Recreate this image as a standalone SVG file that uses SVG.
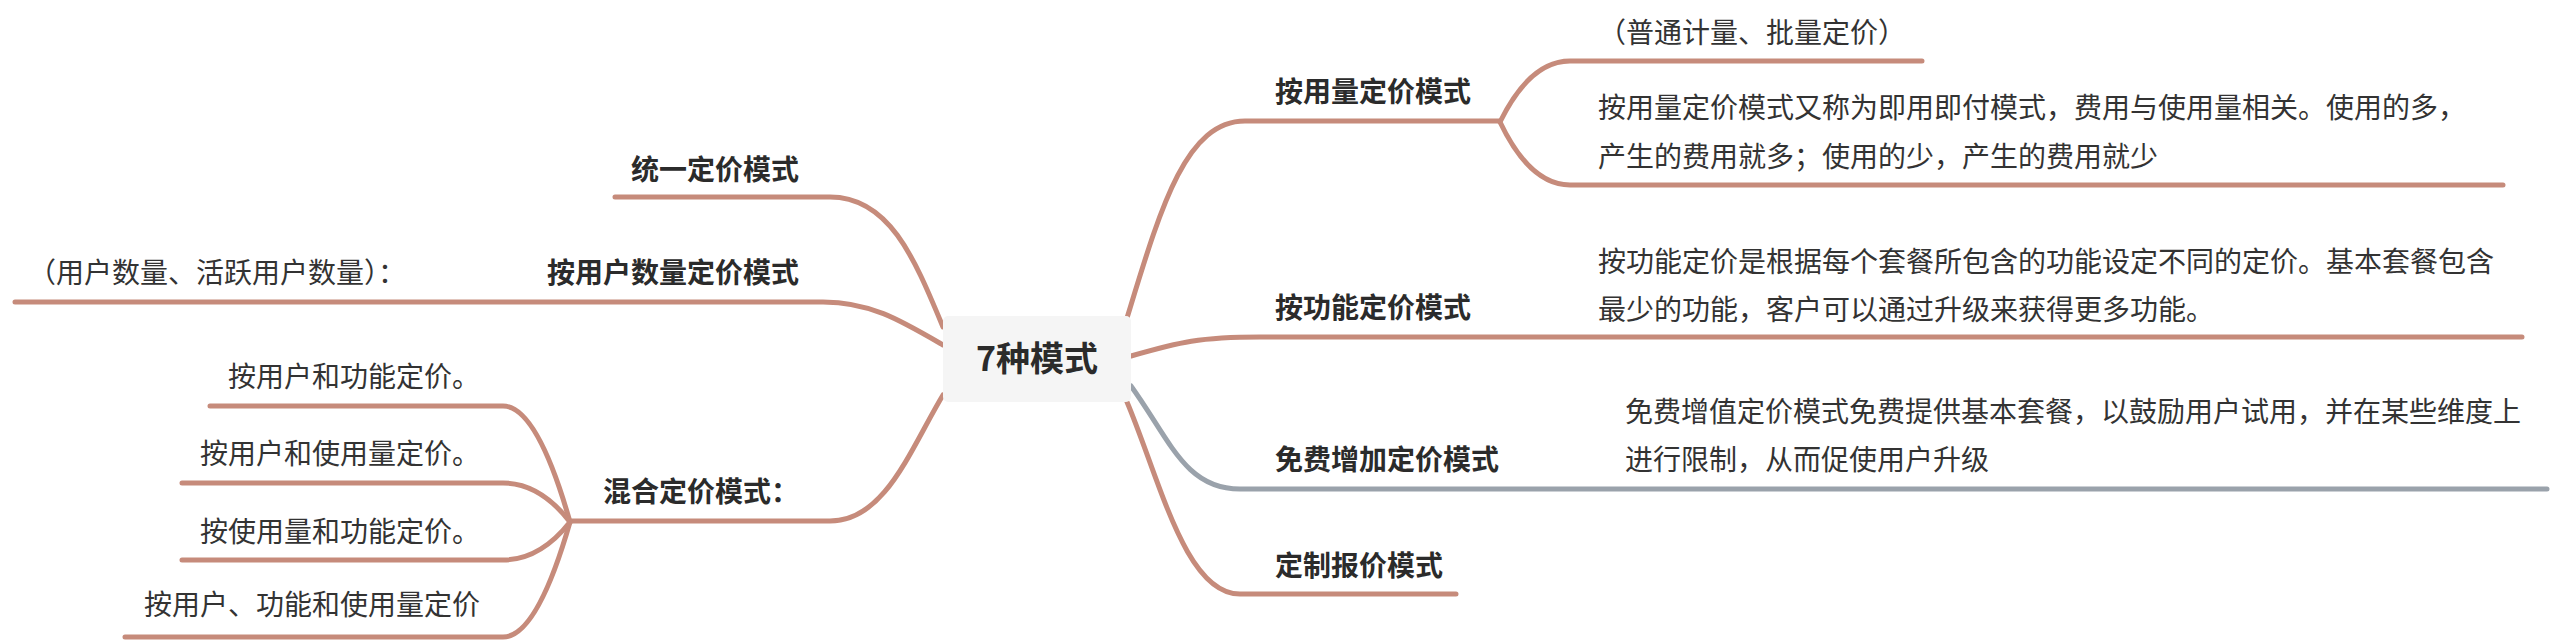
<svg xmlns="http://www.w3.org/2000/svg" width="2562" height="641" viewBox="0 0 2562 641">
<style>
.ln{fill:none;stroke:#c68b7b;stroke-width:5;stroke-linecap:round;stroke-linejoin:round}
.gr{fill:none;stroke:#9aa2ab;stroke-width:5;stroke-linecap:round}
text{font-family:"Noto Sans CJK SC","Noto Sans",sans-serif;font-size:28px;fill:#2b2b2b}
.t{font-weight:bold}
.d{font-weight:normal;fill:#333}
.e{text-anchor:end}
</style>
<rect width="2562" height="641" fill="#ffffff"/>
<g id="connectors">
<!-- right -->
<path class="ln" d="M1127 318 C1160 210 1185 121 1245 121 H1500"/>
<path class="ln" d="M1500 122 Q1530 61 1570 61 H1922"/>
<path class="ln" d="M1500 122 Q1530 185 1570 185 H2503"/>
<path class="ln" d="M1131 356 C1180 342 1200 337 1260 337 H2522"/>
<path class="gr" d="M1131 386 C1170 440 1185 489 1240 489 H2547"/>
<path class="ln" d="M1127 402 C1160 480 1185 594 1240 594 H1456"/>
<!-- left -->
<path class="ln" d="M943 327 C915 260 890 197 830 197 H615"/>
<path class="ln" d="M943 345 C900 320 870 302 823 302 H15"/>
<path class="ln" d="M943 395 C910 450 885 521 830 521 H570"/>
<path class="ln" d="M570 522 Q537 406 503 406 H210"/>
<path class="ln" d="M570 522 Q540 483 503 483 H182"/>
<path class="ln" d="M570 522 Q540 560 503 560 H182"/>
<path class="ln" d="M570 522 Q537 637 503 637 H125"/>
</g>
<g id="root">
<rect x="943" y="316" width="188" height="86" rx="5" fill="#f5f5f5"/>
<text class="t" x="1037" y="371" text-anchor="middle" style="font-size:34px">7种模式</text>
</g>
<g id="n-usage">
<text class="t" x="1275" y="102">按用量定价模式</text>
</g>
<g id="n-usage-note">
<text class="d" x="1598" y="43">（普通计量、批量定价）</text>
</g>
<g id="n-usage-desc">
<text class="d" x="1598" y="118">按用量定价模式又称为即用即付模式，费用与使用量相关。使用的多，</text>
<text class="d" x="1598" y="167">产生的费用就多；使用的少，产生的费用就少</text>
</g>
<g id="n-feature">
<text class="t" x="1275" y="318">按功能定价模式</text>
</g>
<g id="n-feature-desc">
<text class="d" x="1598" y="272">按功能定价是根据每个套餐所包含的功能设定不同的定价。基本套餐包含</text>
<text class="d" x="1598" y="320">最少的功能，客户可以通过升级来获得更多功能。</text>
</g>
<g id="n-freemium">
<text class="t" x="1275" y="470">免费增加定价模式</text>
</g>
<g id="n-freemium-desc">
<text class="d" x="1625" y="422">免费增值定价模式免费提供基本套餐，以鼓励用户试用，并在某些维度上</text>
<text class="d" x="1625" y="470">进行限制，从而促使用户升级</text>
</g>
<g id="n-custom">
<text class="t" x="1275" y="576">定制报价模式</text>
</g>
<g id="n-flat">
<text class="t e" x="799" y="180">统一定价模式</text>
</g>
<g id="n-users">
<text class="t e" x="799" y="283">按用户数量定价模式</text>
</g>
<g id="n-users-note">
<text class="d" x="28" y="283">（用户数量、活跃用户数量）：</text>
</g>
<g id="n-mixed">
<text class="t e" x="799" y="502">混合定价模式：</text>
</g>
<g id="n-mixed-1">
<text class="d e" x="480" y="387">按用户和功能定价。</text>
</g>
<g id="n-mixed-2">
<text class="d e" x="480" y="464">按用户和使用量定价。</text>
</g>
<g id="n-mixed-3">
<text class="d e" x="480" y="542">按使用量和功能定价。</text>
</g>
<g id="n-mixed-4">
<text class="d e" x="480" y="615">按用户、功能和使用量定价</text>
</g>
</svg>
